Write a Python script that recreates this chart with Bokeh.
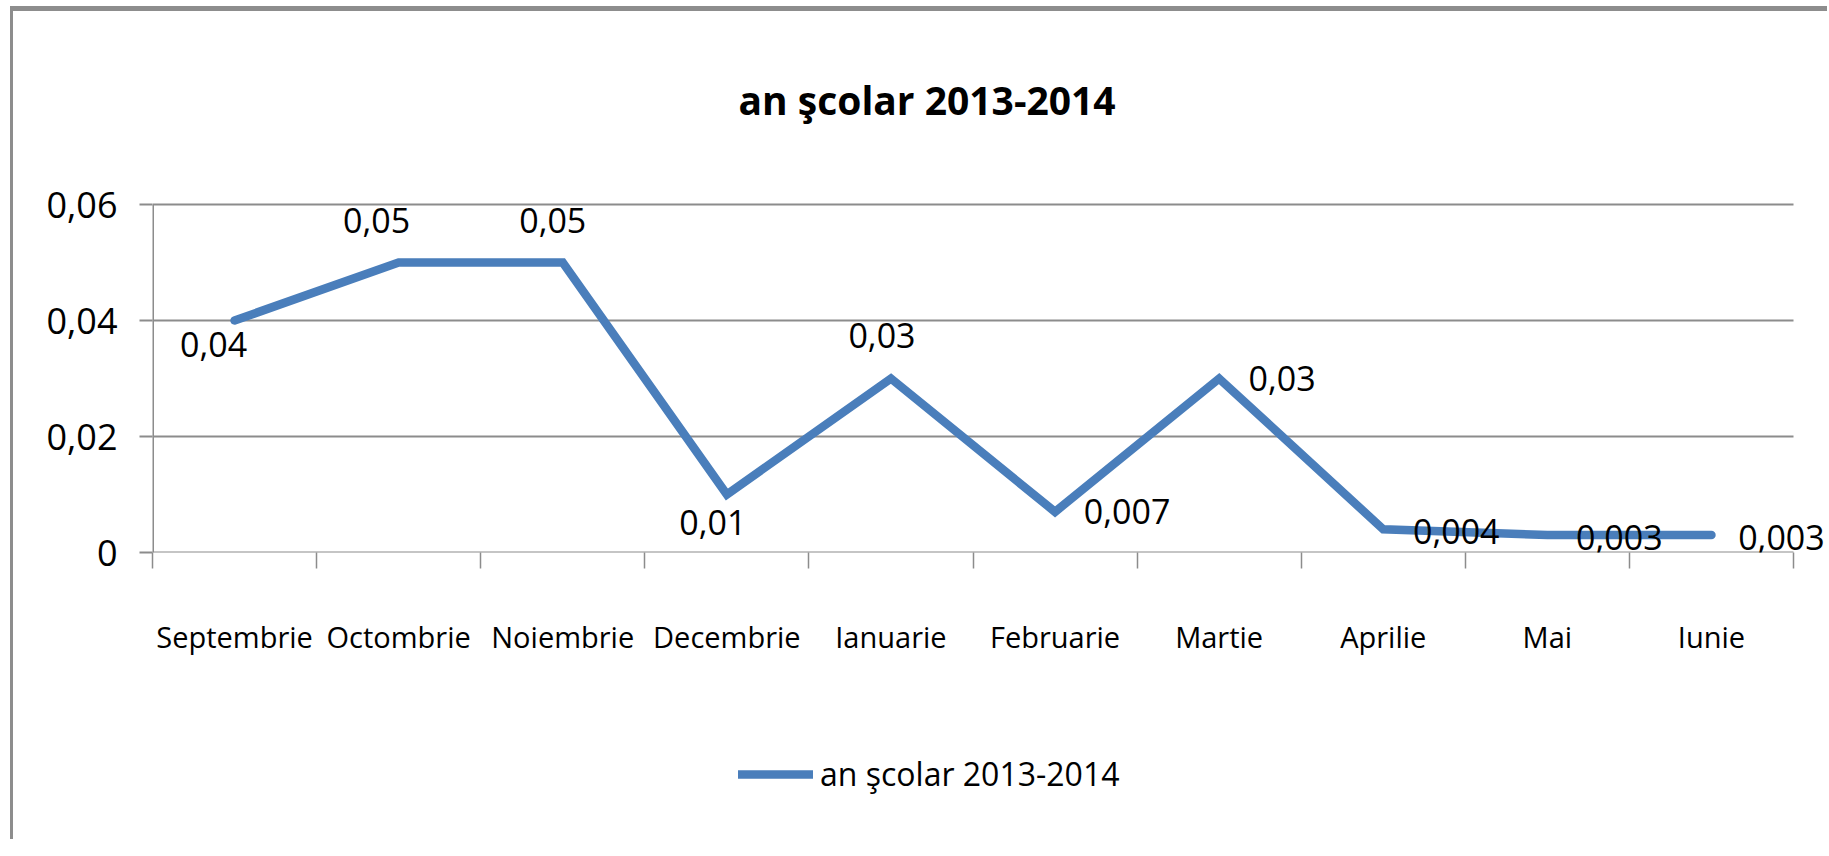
from bokeh.plotting import figure
from bokeh.layouts import column
from bokeh.models import (ColumnDataSource, Range1d, LinearAxis, FixedTicker,
                          CustomJSTickFormatter, Legend, LegendItem, Title)
from bokeh.core.properties import value
from bokeh.embed import file_html
from bokeh.resources import INLINE

# ---- data ----
months = ["Septembrie", "Octombrie", "Noiembrie", "Decembrie", "Ianuarie",
          "Februarie", "Martie", "Aprilie", "Mai", "Iunie"]
values = [0.04, 0.05, 0.05, 0.01, 0.03, 0.007, 0.03, 0.004, 0.003, 0.003]
series_name = "an şcolar 2013-2014"
y_ticks = [0, 0.02, 0.04, 0.06]

# ---- styling (label placement offsets in screen px) ----
label_dx = [-21, -22, -10, -14, -9, 72, 63, 73, 72, 70]
label_dy = [24, -42, -42, 28, -43, 0, 0, 2, 2, 2]

FONT = "Open Sans"
BLUE = "#4A7EBB"
GRAY = "#8C8C8C"
W = 1814

# layout (px)
PLOT_W = 1641          # width of the category area
EXTRA_R = 32           # room on the right for the last data label
PLOT_H = 348           # height of 0..0.06
EXTRA_T = 30           # room above 0.06 for data labels

n = len(months)
ymax = y_ticks[-1]
centers = [i + 0.5 for i in range(n)]
bounds = list(range(n + 1))
labels = [str(v).replace(".", ",") for v in values]
src = ColumnDataSource(dict(x=centers, y=values, lab=labels, dx=label_dx, dy=label_dy))

x_end = n * (PLOT_W + EXTRA_R) / PLOT_W
y_end = ymax * (PLOT_H + EXTRA_T) / PLOT_H

p = figure(width=W, height=700, output_backend="svg", toolbar_location=None,
           x_range=Range1d(0, x_end), y_range=Range1d(0, y_end),
           x_axis_location=None, y_axis_location=None,
           min_border_left=139, min_border_right=2, min_border_top=163, min_border_bottom=159)
p.outline_line_color = None
p.xgrid.visible = False
p.ygrid.visible = False

# gridlines (and x axis line) over the category area only
p.segment(x0=0, x1=n, y0=y_ticks, y1=y_ticks, line_color=GRAY, line_width=2)
# y axis line
p.segment(x0=0, x1=0, y0=0, y1=ymax, line_color=GRAY, line_width=3)

# y axis
yax = LinearAxis(ticker=FixedTicker(ticks=y_ticks, minor_ticks=[]),
                 formatter=CustomJSTickFormatter(code='return tick == 0 ? "0" : tick.toFixed(2).replace(".", ",");'))
yax.axis_line_color = None
yax.major_tick_line_color = GRAY
yax.major_tick_line_width = 2
yax.major_tick_in = 0
yax.major_tick_out = 13
yax.minor_tick_line_color = None
yax.major_label_standoff = 22
yax.major_label_text_font = FONT
yax.major_label_text_font_size = "36px"
yax.major_label_text_color = "black"
p.add_layout(yax, "left")

# x axis: category labels at slot centres, boundary ticks as minor ticks
xax = LinearAxis(ticker=FixedTicker(ticks=centers, minor_ticks=bounds),
                 major_label_overrides={c: m for c, m in zip(centers, months)})
xax.axis_line_color = None
xax.major_tick_line_color = None
xax.major_tick_in = 0
xax.major_tick_out = 0
xax.minor_tick_line_color = GRAY
xax.minor_tick_line_width = 1.5
xax.minor_tick_in = 0
xax.minor_tick_out = 16
xax.major_label_standoff = 48
xax.major_label_text_font = FONT
xax.major_label_text_font_size = "29px"
xax.major_label_text_color = "black"
p.add_layout(xax, "below")

p.line("x", "y", source=src, line_color=BLUE, line_width=8.5,
       line_join="miter", line_cap="round")

p.text("x", "y", text="lab", source=src, x_offset="dx", y_offset="dy",
       text_align="center", text_baseline="middle",
       text_font=value(FONT), text_font_size="34px", text_color="black")

title = Title(text=series_name, align="left", offset=586, text_font=FONT, text_font_size="39px",
              text_font_style="bold", text_color="black", standoff=97)
p.add_layout(title, "above")

# legend strip below the chart (its frame is aligned with the chart's frame)
LEG_H = 128
p2 = figure(width=W, height=LEG_H, output_backend="svg", toolbar_location=None,
            x_range=Range1d(-1, 0), y_range=Range1d(0, 1),
            x_axis_location=None, y_axis_location=None, min_border=0)
p2.outline_line_color = None
p2.xgrid.visible = False
p2.ygrid.visible = False
# same series, lying outside this strip's view: only its legend sample is shown
leg_line = p2.line("x", "y", source=src, line_color=BLUE, line_width=8.5, line_cap="round")
legend = Legend(items=[LegendItem(label=series_name, renderers=[leg_line])],
                location=(586, (LEG_H - 40) // 2), orientation="horizontal",
                padding=0, margin=0, spacing=0, label_standoff=7,
                glyph_width=75, glyph_height=40, label_height=40,
                label_text_font=FONT, label_text_font_size="32px", label_text_color="black",
                border_line_color=None, background_fill_alpha=0)
p2.add_layout(legend, "center")

layout = column(p, p2, spacing=0)
layout.styles = {"margin-top": "6px", "margin-left": "10px",
                 "border-top": "5px solid #8D8D8D", "border-left": "3px solid #8D8D8D"}

open("out.html", "w").write(file_html(layout, INLINE))
